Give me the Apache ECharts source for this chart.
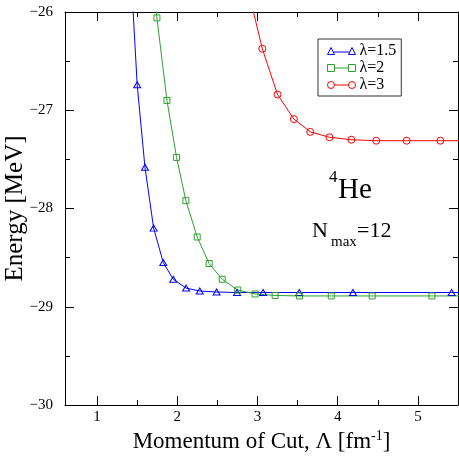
<!DOCTYPE html>
<html>
<head>
<meta charset="utf-8">
<script src="https://cdn.jsdelivr.net/npm/echarts@6/dist/echarts.min.js"></script>
<style>
    html, body {margin: 0; padding: 0; background: #fff;}
    #chart_id {width: 459px; height: 458px;}
</style>
</head>
<body>
<div id="chart_id"></div>
<script>
//λ=1.5
var lam15X = [1.42, 1.50, 1.597, 1.705, 1.825, 1.95, 2.11, 2.28, 2.49, 2.745, 3.07, 3.52, 4.19, 5.42, 5.7];
var lam15Y = [-25.56, -26.74, -27.58, -28.20, -28.55, -28.72, -28.81, -28.84, -28.85, -28.855, -28.855, -28.855, -28.855, -28.855, -28.855];
//λ=2
var lam2X = [1.68, 1.746, 1.871, 1.991, 2.107, 2.248, 2.397, 2.56, 2.754, 2.97, 3.22, 3.525, 3.92, 4.43, 5.175, 5.9];
var lam2Y = [-25.6, -26.06, -26.90, -27.48, -27.92, -28.29, -28.56, -28.72, -28.83, -28.87, -28.885, -28.89, -28.89, -28.89, -28.89, -28.89];
//λ=3
var lam3X = [2.90, 3.06, 3.25, 3.454, 3.658, 3.898, 4.17, 4.48, 4.86, 5.28, 5.8];
var lam3Y = [-25.83, -26.374, -26.84, -27.09, -27.22, -27.275, -27.30, -27.31, -27.31, -27.31, -27.31];

var seriesNames = ['λ=1.5', 'λ=2', 'λ=3'];
var xMajorTicks = [1, 2, 3, 4, 5];
var xMinorTicks = [1.5, 2.5, 3.5, 4.5];

var FONT = 'Liberation Serif';
var colors = ['#0000ff', '#2ea02e', '#ff0000'];

initChart();

function pairs(xs, ys) {
    var out = [];
    for (var i = 0, lens = xs.length; i < lens; i++) {
        out.push([xs[i], ys[i]]);
    }
    return out;
}

function xAxisOf(pos, ticks, len, withLine, withLabel) {
    return {
        type: 'value', position: pos, min: 0.6, max: 5.5,
        axisLine: {show: withLine, onZero: false, lineStyle: {color: '#000', width: 1}},
        axisTick: {show: true, inside: true, length: len, customValues: ticks, lineStyle: {color: '#000'}},
        axisLabel: {show: withLabel, customValues: ticks, margin: 5, color: '#000', fontFamily: FONT, fontSize: 15},
        splitLine: {show: false}
    };
}

function yAxisOf(pos, withLabel) {
    return {
        type: 'value', position: pos, min: -30, max: -26, interval: 1,
        axisLine: {show: true, onZero: false, lineStyle: {color: '#000', width: 1}},
        axisTick: {show: true, inside: true, length: 9, lineStyle: {color: '#000'}},
        minorTick: {show: true, splitNumber: 2, length: 5, lineStyle: {color: '#000'}},
        axisLabel: {
            show: withLabel, margin: 12, color: '#000', fontFamily: FONT, fontSize: 15,
            formatter: function (v) { return v < 0 ? '\u2212' + Math.abs(v) : '' + v; }
        },
        splitLine: {show: false}
    };
}

function initChart() {
    var myChart = echarts.init(document.getElementById('chart_id'));
    var xs = [lam15X, lam2X, lam3X];
    var ys = [lam15Y, lam2Y, lam3Y];
    //空心符号用细线描边
    var symbols = ['triangle', 'rect', 'circle'];
    var sizes = [[7, 6], 6, 7];
    var icons = [
        'path://M3.5,0 L7,7 L0,7 Z M5.75,4.5 L22.25,4.5 M24.5,0 L28,7 L21,7 Z',
        'path://M0,0 L7,0 L7,7 L0,7 Z M7,3.5 L21,3.5 M21,0 L28,0 L28,7 L21,7 Z',
        'path://M0,3.5 A3.5,3.5 0 1,1 7,3.5 A3.5,3.5 0 1,1 0,3.5 Z M7,3.5 L21,3.5 M21,3.5 A3.5,3.5 0 1,1 28,3.5 A3.5,3.5 0 1,1 21,3.5 Z'
    ];
    var series = [];
    var legendData = [];
    for (var i = 0; i < 3; i++) {
        series.push({
            name: seriesNames[i],
            type: 'line',
            data: pairs(xs[i], ys[i]),
            symbol: symbols[i],
            symbolSize: sizes[i],
            clip: true,
            lineStyle: {color: colors[i], width: 1},
            itemStyle: {color: 'rgba(255,255,255,0)', borderColor: colors[i], borderWidth: 1},
            animation: false
        });
        legendData.push({
            name: seriesNames[i],
            icon: icons[i],
            itemStyle: {color: 'none', borderColor: colors[i], borderWidth: 1}
        });
    }

    var xMain = xAxisOf('bottom', xMajorTicks, 9, true, true);
    xMain.name = '{a|Momentum of Cut, Λ [fm}{s|-1}{a|]}';
    xMain.nameLocation = 'middle';
    xMain.nameGap = 24;
    xMain.nameMoveOverlap = false;
    xMain.nameTextStyle = {
        rich: {
            a: {fontFamily: FONT, fontSize: 23, color: '#000', lineHeight: 26},
            s: {fontFamily: FONT, fontSize: 14, color: '#000', verticalAlign: 'top', lineHeight: 14}
        }
    };
    var yMain = yAxisOf('left', true);
    yMain.name = 'Energy [MeV]';
    yMain.nameLocation = 'middle';
    yMain.nameGap = 37;
    yMain.nameMoveOverlap = false;
    yMain.nameTextStyle = {fontFamily: FONT, fontSize: 25, color: '#000'};

    var option = {
        backgroundColor: '#fff',
        animation: false,
        grid: {left: 65, right: 1, top: 12, bottom: 53, containLabel: false, outerBoundsMode: 'none'},
        legend: {
            orient: 'vertical',
            left: 318, top: 39,
            padding: [4, 5, 3, 7],
            borderColor: '#333', borderWidth: 1,
            itemWidth: 28, itemHeight: 7, itemGap: 1,
            textStyle: {fontFamily: FONT, fontSize: 16, color: '#000', lineHeight: 16, padding: [0, 0, 0, -1]},
            data: legendData,
            selectedMode: false
        },
        xAxis: [
            xMain,
            xAxisOf('bottom', xMinorTicks, 5, false, false),
            xAxisOf('top', xMajorTicks, 9, true, false),
            xAxisOf('top', xMinorTicks, 5, false, false)
        ],
        yAxis: [yMain, yAxisOf('right', false)],
        graphic: [
            {type: 'text', left: 329, top: 169, style: {text: '4', fontFamily: FONT, fontSize: 17, fill: '#000'}},
            {type: 'text', x: 338, y: 190, style: {text: 'He', fontFamily: FONT, fontSize: 29, fill: '#000', verticalAlign: 'middle'}},
            {type: 'text', x: 312, y: 231, style: {text: 'N', fontFamily: FONT, fontSize: 22, fill: '#000', verticalAlign: 'middle'}},
            {type: 'text', x: 331, y: 242, style: {text: 'max', fontFamily: FONT, fontSize: 15, fill: '#000', verticalAlign: 'middle'}},
            {type: 'text', x: 357, y: 231, style: {text: '=12', fontFamily: FONT, fontSize: 22, fill: '#000', verticalAlign: 'middle'}}
        ],
        series: series
    };
    myChart.setOption(option, true);
}
</script>
</body>
</html>
